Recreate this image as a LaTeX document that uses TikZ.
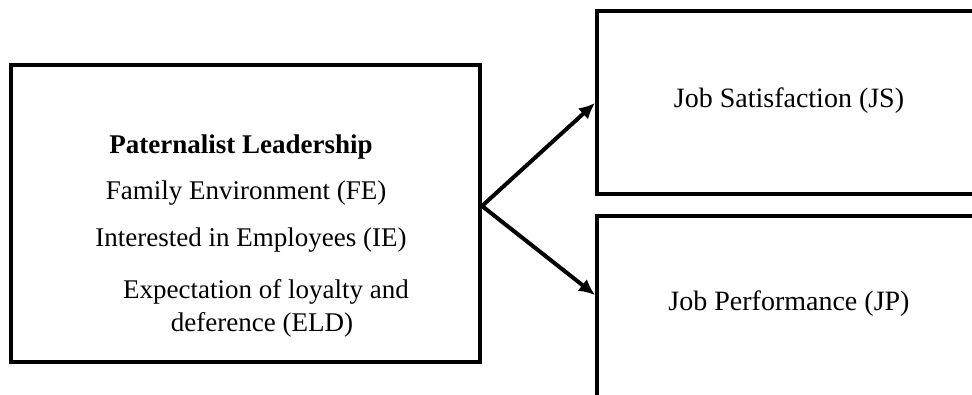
\documentclass[tikz,border=0pt]{standalone}
\usepackage{fontspec}
\setmainfont{Liberation Serif}
\usetikzlibrary{arrows.meta}
\begin{document}
\begin{tikzpicture}[x=1pt,y=-1pt,
  frame/.style={draw=black,line width=4pt,fill=white,inner sep=0pt},
  lefttxt/.style={anchor=base,inner sep=0pt,font=\fontsize{27}{32}\selectfont},
  righttxt/.style={anchor=base,inner sep=0pt,font=\fontsize{28}{33}\selectfont},
  link/.style={draw=black,line width=4pt,-{Latex[length=16pt,width=15pt]}}]
\useasboundingbox[fill=white] (0,0) rectangle (972,394);
\clip (0,0) rectangle (972,394);

% boxes
\node[frame,minimum width=469pt,minimum height=297pt] (lead) at (245.5,213.5) {};
\node[frame,minimum width=420pt,minimum height=183pt] (js) at (807,102.5) {};
\node[frame,minimum width=420pt,minimum height=183pt] (jp) at (807,307.5) {};

% left box contents
\node[lefttxt,font=\fontsize{27}{32}\selectfont\bfseries] (title) at (241,153) {Paternalist Leadership};
\node[lefttxt] (fe) at (246,199) {Family Environment (FE)};
\node[lefttxt] (ie) at (251,246) {Interested in Employees (IE)};
\node[lefttxt] (eld1) at (266,298) {Expectation of loyalty and};
\node[lefttxt] (eld2) at (262,331) {deference (ELD)};

% right box contents
\node[righttxt] (jstxt) at (789,107) {Job Satisfaction (JS)};
\node[righttxt] (jptxt) at (789,310) {Job Performance (JP)};

% connectors
\coordinate (split) at ([yshift=7.5pt]lead.east);
\draw[link] (split) -- ([yshift=-0.5pt]js.west);
\draw[link] (split) -- ([yshift=12.5pt]jp.west);
\end{tikzpicture}
\end{document}
